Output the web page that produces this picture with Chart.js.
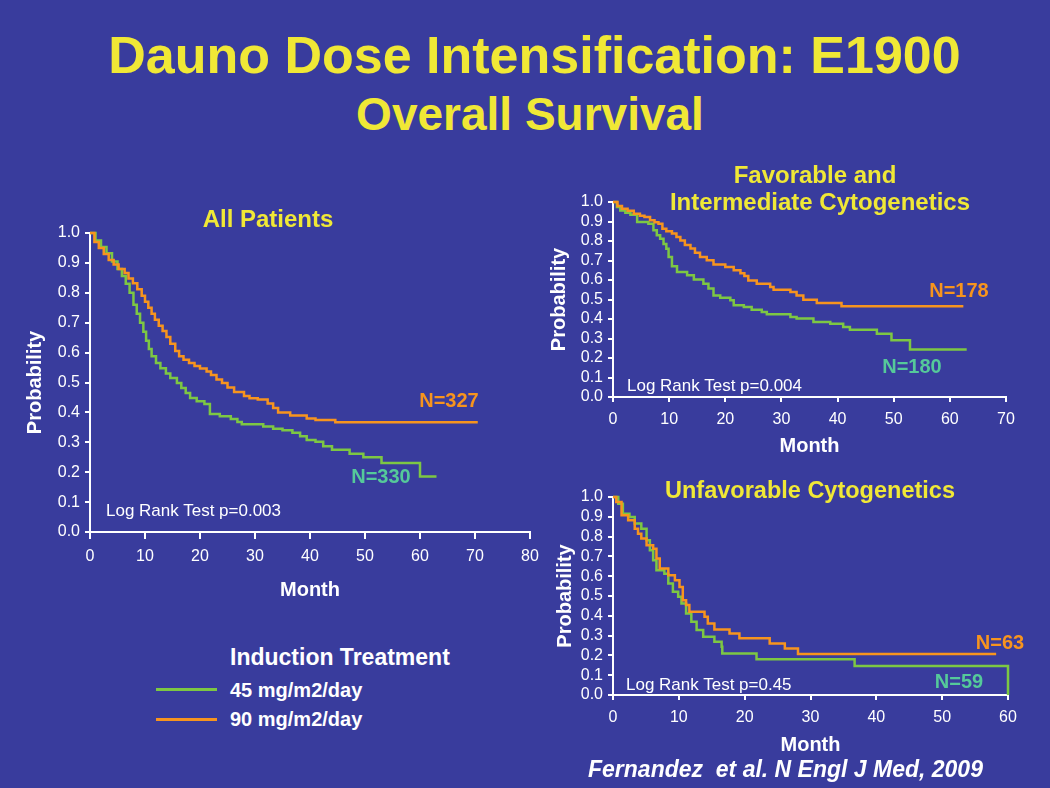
<!DOCTYPE html>
<html>
<head>
<meta charset="utf-8">
<script src="https://cdn.jsdelivr.net/npm/chart.js@4.4.1/dist/chart.umd.min.js"></script>
<style>
  html, body { margin: 0; padding: 0; }
  body {
    width: 1050px; height: 788px; position: relative; overflow: hidden;
    background: #393c9d;
    font-family: "Liberation Sans", Arial, Helvetica, sans-serif;
  }
  canvas { position: absolute; }
  .txt { position: absolute; white-space: pre; line-height: 1; z-index: 2; }
  .yellow { color: #f0e836; font-weight: bold; }
  .white { color: #ffffff; }
  .bold { font-weight: bold; }
  .orange { color: #f7941e; font-weight: bold; }
  .teal { color: #55c99a; font-weight: bold; }
  .swatch { position: absolute; height: 3px; width: 61px; left: 156px; }
</style>
</head>
<body>

<canvas id="allChart" width="560" height="430" style="left:0px; top:190px;"></canvas>
<canvas id="favChart" width="510" height="310" style="left:540px; top:150px;"></canvas>
<canvas id="unfavChart" width="510" height="300" style="left:540px; top:460px;"></canvas>

<!-- titles -->
<div class="txt yellow" style="font-size:52px; left:0; width:1069px; text-align:center; top:29px;">Dauno Dose Intensification: E1900</div>
<div class="txt yellow" style="font-size:46px; left:0; width:1060px; text-align:center; top:91px;">Overall Survival</div>

<div class="txt yellow" style="font-size:24px; left:68px; width:400px; text-align:center; top:207px;">All Patients</div>
<div class="txt yellow" style="font-size:24px; left:615px; width:400px; text-align:center; top:163px;">Favorable and</div>
<div class="txt yellow" style="font-size:24px; left:620px; width:400px; text-align:center; top:190px;">Intermediate Cytogenetics</div>
<div class="txt yellow" style="font-size:23.5px; left:610px; width:400px; text-align:center; top:479px;">Unfavorable Cytogenetics</div>

<!-- group labels -->
<div class="txt orange" style="font-size:20px; left:349px; width:200px; text-align:center; top:390px;">N=327</div>
<div class="txt teal" style="font-size:20px; left:281px; width:200px; text-align:center; top:466px;">N=330</div>
<div class="txt orange" style="font-size:20px; left:859px; width:200px; text-align:center; top:280px;">N=178</div>
<div class="txt teal" style="font-size:20px; left:812px; width:200px; text-align:center; top:356px;">N=180</div>
<div class="txt orange" style="font-size:20px; left:900px; width:200px; text-align:center; top:632px;">N=63</div>
<div class="txt teal" style="font-size:20px; left:859px; width:200px; text-align:center; top:671px;">N=59</div>

<div class="txt white" style="font-size:17px; left:106px; top:502px;">Log Rank Test p=0.003</div>
<div class="txt white" style="font-size:17px; left:627px; top:377px;">Log Rank Test p=0.004</div>
<div class="txt white" style="font-size:17px; left:626px; top:676px;">Log Rank Test p=0.45</div>

<!-- legend -->
<div class="txt white bold" style="font-size:23px; left:230px; top:646px;">Induction Treatment</div>
<div class="swatch" style="top:688px; background:#7dc743;"></div>
<div class="txt white bold" style="font-size:20px; left:230px; top:680px;">45 mg/m2/day</div>
<div class="swatch" style="top:718px; background:#f7941e;"></div>
<div class="txt white bold" style="font-size:20px; left:230px; top:709px;">90 mg/m2/day</div>

<div class="txt white bold" style="font-size:23px; font-style:italic; left:588px; top:758px;">Fernandez  et al. N Engl J Med, 2009</div>

<script>
// All patients
const allMonths45 = [0, 1.0, 2.0, 3.0, 4.0, 5.0, 5.8, 6.5, 7.2, 7.9, 8.5, 9.1, 9.7, 10.2, 10.7, 11.2, 12.0, 12.8, 13.8, 14.6, 15.8, 16.6, 17.4, 18.2, 19.4, 20.8, 21.8, 23.6, 25.6, 26.8, 27.6, 31.5, 33.3, 35.0, 36.8, 38.2, 39.4, 41.0, 42.4, 44.0, 47.2, 49.7, 53.0, 60.0, 63.0];
const allSurv45   = [1, 0.975, 0.953, 0.932, 0.905, 0.88, 0.856, 0.83, 0.80, 0.76, 0.73, 0.70, 0.67, 0.64, 0.612, 0.588, 0.565, 0.548, 0.53, 0.515, 0.498, 0.482, 0.465, 0.448, 0.437, 0.428, 0.395, 0.387, 0.378, 0.368, 0.36, 0.353, 0.345, 0.34, 0.332, 0.32, 0.308, 0.302, 0.287, 0.275, 0.262, 0.25, 0.231, 0.186, 0.186];
const allMonths90 = [0, 0.8, 1.6, 2.5, 3.4, 4.3, 5.2, 6.3, 7.0, 7.8, 8.6, 9.4, 10.0, 10.6, 11.2, 11.8, 12.5, 13.2, 13.9, 14.6, 15.5, 16.2, 17.0, 18.0, 19.0, 20.0, 21.2, 22.0, 23.0, 24.0, 25.0, 26.2, 28.0, 29.0, 30.5, 32.3, 33.3, 34.2, 36.4, 39.4, 41.0, 44.6, 70.5];
const allSurv90   = [1, 0.97, 0.95, 0.93, 0.91, 0.895, 0.88, 0.866, 0.848, 0.832, 0.812, 0.79, 0.77, 0.75, 0.73, 0.71, 0.69, 0.672, 0.652, 0.63, 0.605, 0.588, 0.576, 0.565, 0.555, 0.547, 0.537, 0.525, 0.51, 0.498, 0.483, 0.468, 0.455, 0.447, 0.443, 0.43, 0.415, 0.40, 0.39, 0.38, 0.375, 0.367, 0.367];

// Favorable and intermediate cytogenetics
const favMonths45 = [0, 0.7, 1.3, 2.2, 3.1, 4.3, 6.3, 7.2, 7.8, 8.4, 9.0, 9.5, 9.9, 10.5, 11.4, 13.2, 14.4, 16.1, 17.0, 17.9, 19.1, 20.9, 21.5, 23.3, 24.7, 26.5, 27.4, 31.6, 32.7, 35.7, 38.7, 41.0, 42.2, 47.0, 49.6, 52.9, 63.0];
const favSurv45   = [1, 0.975, 0.957, 0.945, 0.935, 0.897, 0.889, 0.855, 0.83, 0.812, 0.785, 0.76, 0.718, 0.67, 0.641, 0.624, 0.602, 0.581, 0.556, 0.521, 0.509, 0.496, 0.47, 0.462, 0.448, 0.436, 0.424, 0.41, 0.402, 0.385, 0.376, 0.359, 0.345, 0.325, 0.291, 0.244, 0.244];
const favMonths90 = [0, 0.8, 1.6, 2.6, 3.7, 4.8, 5.6, 6.6, 7.4, 8.1, 8.8, 9.5, 10.5, 11.3, 12.0, 12.8, 13.8, 14.6, 15.5, 16.7, 17.9, 20.0, 21.5, 22.7, 23.4, 24.1, 25.6, 28.0, 28.6, 31.6, 32.7, 33.9, 36.3, 40.7, 62.4];
const favSurv90   = [1, 0.98, 0.965, 0.955, 0.94, 0.93, 0.923, 0.906, 0.896, 0.889, 0.863, 0.85, 0.838, 0.82, 0.803, 0.78, 0.761, 0.74, 0.718, 0.701, 0.68, 0.667, 0.65, 0.635, 0.62, 0.598, 0.581, 0.564, 0.55, 0.538, 0.521, 0.499, 0.482, 0.465, 0.465];

// Unfavorable cytogenetics
const unfavMonths45 = [0, 0.8, 1.5, 2.5, 3.3, 4.3, 5.1, 5.6, 6.1, 6.6, 7.8, 8.4, 9.1, 9.9, 10.4, 11.1, 11.9, 12.7, 13.7, 15.4, 16.5, 16.6, 21.8, 36.7, 60, 60];
const unfavSurv45   = [1, 0.966, 0.916, 0.899, 0.866, 0.84, 0.782, 0.731, 0.681, 0.63, 0.613, 0.563, 0.521, 0.496, 0.462, 0.412, 0.37, 0.328, 0.294, 0.269, 0.244, 0.21, 0.18, 0.146, 0.146, 0];
const unfavMonths90 = [0, 0.5, 1.3, 2.3, 3.3, 3.8, 4.3, 5.1, 6.1, 6.6, 7.1, 8.4, 9.4, 10.1, 10.6, 11.1, 11.6, 13.9, 14.4, 15.4, 17.7, 19.2, 23.8, 26.1, 28.1, 58.2];
const unfavSurv90   = [1, 0.975, 0.908, 0.882, 0.84, 0.815, 0.79, 0.756, 0.739, 0.689, 0.639, 0.605, 0.58, 0.546, 0.479, 0.454, 0.42, 0.395, 0.361, 0.331, 0.311, 0.286, 0.26, 0.235, 0.207, 0.207];

const GREEN = '#7dc743';
const ORANGE = '#f7941e';

Chart.defaults.font.family = '"Liberation Sans", Arial, Helvetica, sans-serif';

function createSurvivalChart(chartId, series, cfg) {
    const ctx = document.getElementById(chartId).getContext('2d');

    new Chart(ctx, {
        type: 'line',
        data: {
            datasets: series.map(s => ({
                label: s.label,
                data: s.months.map((m, i) => ({ x: m, y: s.surv[i] })),
                borderColor: s.color,
                borderWidth: 2.5,
                pointRadius: 0,
                stepped: 'before',
                fill: false,
                clip: 4
            }))
        },
        options: {
            responsive: false,
            animation: false,
            layout: { padding: cfg.padding },
            plugins: {
                legend: { display: false },
                tooltip: { enabled: false }
            },
            scales: {
                x: {
                    type: 'linear',
                    min: 0,
                    max: cfg.xMax,
                    ticks: { stepSize: 10, autoSkip: false, color: '#fff', font: { size: 16 }, padding: 8, maxRotation: 0 },
                    grid: { drawOnChartArea: false, color: '#fff', lineWidth: 2, tickLength: cfg.xTick },
                    border: { color: '#fff', width: 2 },
                    title: {
                        display: true,
                        text: 'Month',
                        color: '#fff',
                        font: { size: 20, weight: 'bold' },
                        padding: { top: 0, bottom: 0 }
                    },
                    afterFit: scale => { scale.height = cfg.xHeight; }
                },
                y: {
                    min: 0,
                    max: 1,
                    ticks: { stepSize: 0.1, autoSkip: false, color: '#fff', font: { size: 16 }, padding: 5, callback: v => v.toFixed(1) },
                    grid: { drawOnChartArea: false, color: '#fff', lineWidth: 2, tickLength: 5 },
                    border: { color: '#fff', width: 2 },
                    title: {
                        display: true,
                        text: 'Probability',
                        color: '#fff',
                        font: { size: 20, weight: 'bold' },
                        padding: { top: cfg.yTitlePad, bottom: 0 }
                    },
                    afterFit: scale => { scale.width = cfg.yWidth; }
                }
            }
        }
    });
}

createSurvivalChart('allChart', [
    { label: '90 mg/m2/day', months: allMonths90, surv: allSurv90, color: ORANGE },
    { label: '45 mg/m2/day', months: allMonths45, surv: allSurv45, color: GREEN }
], { xMax: 80, xTick: 7, xHeight: 70, yWidth: 90, yTitlePad: 23, padding: { left: 0, top: 43, right: 30, bottom: 18 } });

createSurvivalChart('favChart', [
    { label: '90 mg/m2/day', months: favMonths90, surv: favSurv90, color: ORANGE },
    { label: '45 mg/m2/day', months: favMonths45, surv: favSurv45, color: GREEN }
], { xMax: 70, xTick: 5, xHeight: 61, yWidth: 73, yTitlePad: 7, padding: { left: 0, top: 52, right: 44, bottom: 2 } });

createSurvivalChart('unfavChart', [
    { label: '90 mg/m2/day', months: unfavMonths90, surv: unfavSurv90, color: ORANGE },
    { label: '45 mg/m2/day', months: unfavMonths45, surv: unfavSurv45, color: GREEN }
], { xMax: 60, xTick: 5, xHeight: 62, yWidth: 73, yTitlePad: 13, padding: { left: 0, top: 37, right: 42, bottom: 3 } });
</script>
</body>
</html>
